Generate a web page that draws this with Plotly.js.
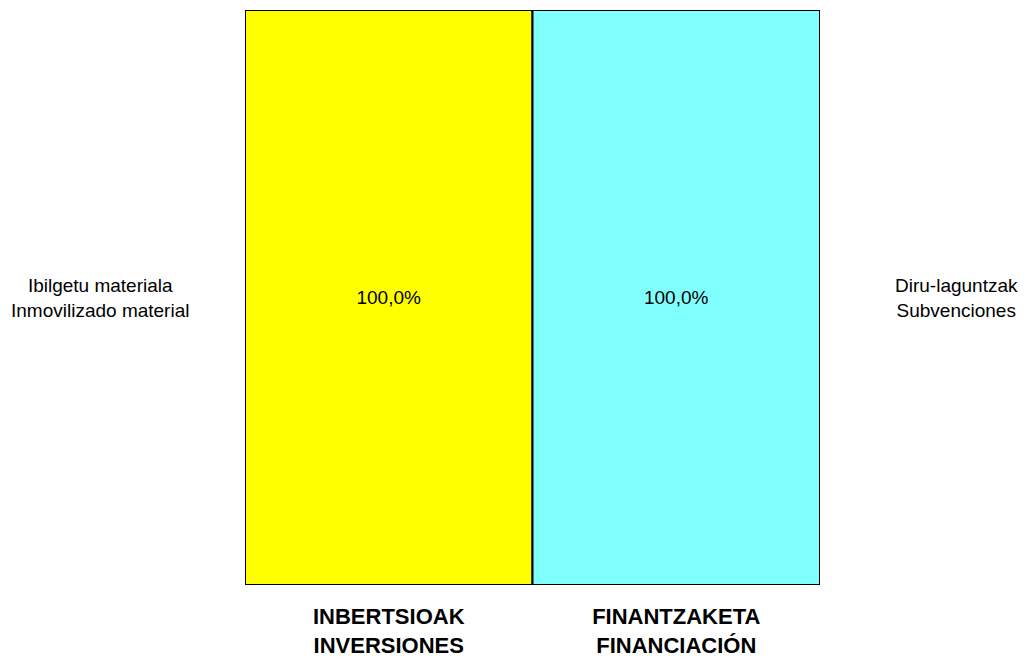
<!DOCTYPE html>
<html><head><meta charset="utf-8">
<script src="https://cdn.plot.ly/plotly-3.0.1.min.js"></script>
<style>body{margin:0;background:#fff}#c{width:1029px;height:661px}</style>
</head><body><div id="c"></div>
<script>
const categories = ["INBERTSIOAK<br>INVERSIONES", "FINANTZAKETA<br>FINANCIACIÓN"];
const values = [100.0, 100.0];
const segmentLabels = ["Ibilgetu materiala<br>Inmovilizado material", "Diru-laguntzak<br>Subvenciones"];
const colors = ["#ffff00", "#80ffff"];

const fontFam = "'Liberation Sans', Arial, sans-serif";
const fmt = v => v.toFixed(1).replace('.', ',') + '%';

const trace = {
  type: 'bar',
  x: [0, 1],
  y: values,
  width: [1, 1],
  marker: {color: colors, line: {color: '#000', width: 2}},
  text: values.map(fmt),
  textposition: 'inside',
  insidetextanchor: 'middle',
  textfont: {family: fontFam, size: 19, color: '#000'},
  hoverinfo: 'none'
};

const layout = {
  width: 1029, height: 661,
  margin: {l: 245, r: 209, t: 10, b: 76},
  paper_bgcolor: '#fff', plot_bgcolor: '#fff',
  showlegend: false,
  bargap: 0,
  xaxis: {
    range: [-0.5, 1.5], tickvals: [0, 1], ticktext: categories.map(c => '<b>' + c + '</b>'),
    showgrid: false, zeroline: false, showline: false, ticks: '',
    tickfont: {family: fontFam, size: 22, color: '#000'}, ticklabelstandoff: 16
  },
  yaxis: {range: [0, 100], visible: false, showgrid: false, zeroline: false},
  annotations: [
    {xref: 'paper', yref: 'y', x: -0.252, y: values[0] / 2, text: segmentLabels[0], showarrow: false,
     xanchor: 'center', font: {family: fontFam, size: 19, color: '#000'}},
    {xref: 'paper', yref: 'y', x: 1.238, y: values[1] / 2, text: segmentLabels[1], showarrow: false,
     xanchor: 'center', font: {family: fontFam, size: 19, color: '#000'}}
  ]
};

Plotly.newPlot('c', [trace], layout, {displayModeBar: false, staticPlot: true});
</script></body></html>
